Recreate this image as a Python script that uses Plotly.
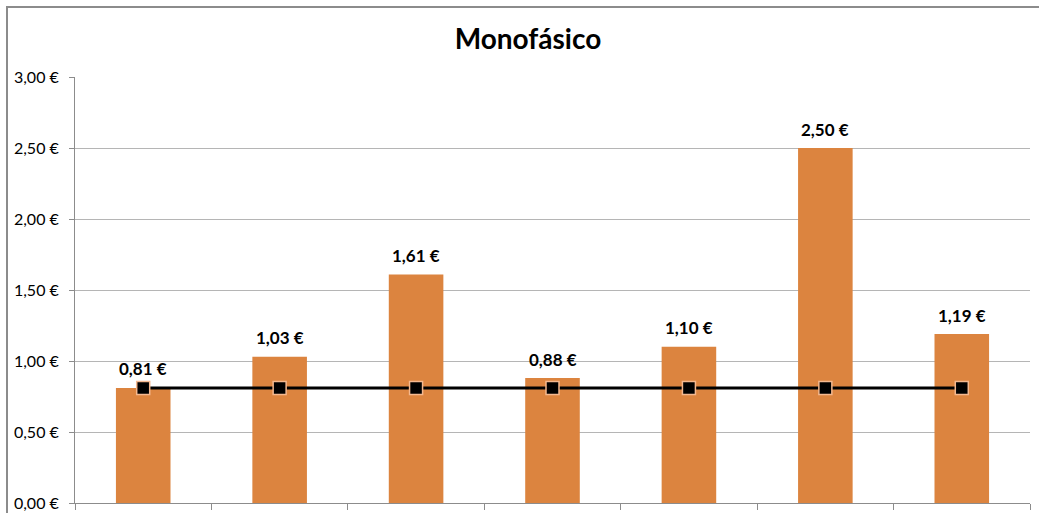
import plotly.graph_objects as go

categories = ["A", "B", "C", "D", "E", "F", "G"]
values = [0.81, 1.03, 1.61, 0.88, 1.10, 2.50, 1.19]
reference = [0.81, 0.81, 0.81, 0.81, 0.81, 0.81, 0.81]
y_ticks = [0, 0.5, 1.0, 1.5, 2.0, 2.5, 3.0]

labels = [f"{v:.2f} €".replace(".", ",") for v in values]
tick_text = [f"{v:.2f} €".replace(".", ",") for v in y_ticks]

FONT = "Lato, sans-serif"

fig = go.Figure()
fig.add_trace(go.Bar(
    x=categories, y=values, width=0.4,
    marker=dict(color="#DC843F", line=dict(width=0)),
    hoverinfo="skip",
))
fig.add_trace(go.Scatter(
    x=categories, y=reference, mode="lines+markers",
    line=dict(color="#000000", width=3),
    marker=dict(symbol="square", size=13, color="#000000",
                line=dict(color="#F4B88F", width=1.5)),
    hoverinfo="skip",
))

for c, v, t in zip(categories, values, labels):
    fig.add_annotation(x=c, y=v, text=f"<b>{t}</b>", showarrow=False,
                       yshift=19, xanchor="center", yanchor="middle",
                       font=dict(family=FONT, size=17, color="#000000"))

W, H = 1039, 513
L, R, T, B = 75, 9, 77, 10
pw, ph = W - L - R, H - T - B

def px_x(p):
    return (p - L) / pw

def px_y(p):
    return (H - B - p) / ph

fig.add_shape(type="rect", xref="paper", yref="paper",
              x0=px_x(7), x1=px_x(1060), y0=px_y(540), y1=px_y(7),
              line=dict(color="#8C8C8C", width=2), fillcolor="rgba(0,0,0,0)",
              layer="below")

fig.update_layout(
    width=W, height=H,
    margin=dict(l=L, r=R, t=T, b=B, autoexpand=False),
    paper_bgcolor="white", plot_bgcolor="white",
    showlegend=False,
    separators=",.",
    title=dict(text="<b>Monofásico</b>", x=528 / W, xref="container", xanchor="center",
               y=1 - 39 / H, yanchor="middle",
               font=dict(family=FONT, size=28, color="#000000")),
    xaxis=dict(showticklabels=False, tickson="boundaries", ticks="outside",
               ticklen=6, tickcolor="#8C8C8C", showgrid=False, automargin=False,
               showline=True, linecolor="#8C8C8C", linewidth=1),
    yaxis=dict(range=[0, 3], tickvals=y_ticks, ticktext=tick_text,
               ticks="outside", ticklen=5, tickcolor="#8C8C8C", automargin=False,
               showline=True, linecolor="#8C8C8C", linewidth=1,
               showgrid=True, gridcolor="#B5B5B5", gridwidth=1,
               zeroline=False, ticklabelstandoff=7,
               tickfont=dict(family=FONT, size=16, color="#000000")),
)

fig.write_html("out.html")
